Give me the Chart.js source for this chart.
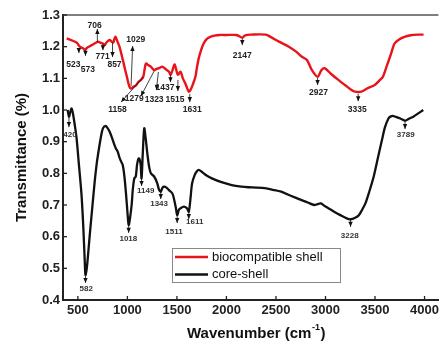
<!DOCTYPE html>
<html><head><meta charset="utf-8">
<script src="https://cdn.jsdelivr.net/npm/chart.js@4/dist/chart.umd.min.js"></script>
<style>html,body{margin:0;padding:0;background:#fff}canvas{display:block}</style>
</head><body>
<canvas id="c" width="442" height="343"></canvas>
<script>
const seriesLabels = ['biocompatible shell', 'core-shell'];

const shellWavenumber = [387,487,520,553,570,600,640,687,703,730,753,771,790,820,845,857,870,880,895,920,945,970,995,1020,1037,1060,1087,1110,1137,1160,1175,1187,1210,1237,1270,1295,1320,1353,1390,1420,1437,1460,1477,1495,1510,1537,1560,1590,1620,1640,1660,1687,1700,1720,1745,1770,1800,1837,1880,1930,2000,2100,2130,2160,2190,2250,2397,2450,2530,2630,2700,2763,2813,2863,2920,2960,2990,3060,3130,3200,3263,3297,3363,3420,3497,3550,3580,3620,3663,3697,3740,3797,3860,3930,3990];
const shellTransmittance = [1.226,1.213,1.200,1.195,1.190,1.198,1.205,1.213,1.216,1.212,1.210,1.205,1.214,1.221,1.215,1.213,1.225,1.231,1.220,1.200,1.170,1.137,1.105,1.074,1.068,1.073,1.078,1.088,1.095,1.105,1.130,1.147,1.142,1.137,1.126,1.130,1.132,1.137,1.128,1.121,1.111,1.130,1.144,1.125,1.111,1.121,1.100,1.080,1.058,1.065,1.080,1.105,1.130,1.163,1.190,1.210,1.224,1.231,1.235,1.237,1.237,1.237,1.233,1.228,1.236,1.238,1.238,1.230,1.216,1.200,1.185,1.168,1.158,1.126,1.105,1.126,1.132,1.113,1.095,1.078,1.063,1.058,1.058,1.068,1.079,1.095,1.105,1.140,1.179,1.210,1.222,1.231,1.236,1.238,1.238];

const coreWavenumber = [397,410,425,437,450,470,487,510,537,555,570,577,590,605,620,645,670,690,703,730,753,780,800,820,845,870,885,903,920,937,953,970,987,1000,1013,1025,1043,1055,1070,1085,1097,1110,1120,1133,1143,1155,1170,1185,1203,1220,1237,1270,1300,1320,1337,1355,1370,1395,1420,1453,1470,1490,1503,1520,1537,1570,1600,1620,1640,1653,1680,1700,1720,1750,1800,1853,1950,2053,2150,2220,2300,2387,2470,2553,2620,2690,2753,2820,2887,2920,2953,3000,3087,3150,3220,3253,3300,3337,3370,3403,3440,3487,3530,3570,3600,3637,3660,3687,3730,3770,3803,3840,3887,3940,3987];
const coreTransmittance = [1.000,0.979,0.995,1.005,0.990,0.950,0.911,0.830,0.732,0.630,0.520,0.479,0.500,0.550,0.605,0.690,0.774,0.830,0.858,0.910,0.942,0.950,0.943,0.932,0.912,0.889,0.878,0.868,0.850,0.837,0.826,0.790,0.732,0.680,0.637,0.655,0.700,0.750,0.784,0.790,0.826,0.845,0.847,0.830,0.784,0.860,0.942,0.910,0.858,0.820,0.800,0.790,0.770,0.748,0.742,0.755,0.758,0.755,0.747,0.737,0.720,0.690,0.668,0.685,0.690,0.695,0.690,0.679,0.730,0.768,0.795,0.806,0.811,0.805,0.793,0.784,0.772,0.763,0.758,0.756,0.755,0.753,0.748,0.742,0.733,0.724,0.716,0.708,0.700,0.703,0.705,0.695,0.679,0.668,0.657,0.655,0.660,0.668,0.685,0.705,0.740,0.790,0.850,0.905,0.945,0.974,0.980,0.981,0.976,0.971,0.966,0.972,0.979,0.990,1.000];

const xTickValues = [500,1000,1500,2000,2500,3000,3500,4000];
const yTickValues = [0.4,0.5,0.6,0.7,0.8,0.9,1.0,1.1,1.2,1.3];

// peak annotations (data units): arrow from (fromX,fromY) to (toX,toY), label at (labelX,labelY)
const shellPeakLabels = ['523','573','706','771','857','1029','1158','1279','1323','1437','1515','1631','2147','2927','3335'];
const shellArrowFromX = [510,577,697,753,850,1037,1160,1270,1313,1435,1510,1630,2160,2920,3330];
const shellArrowFromY = [1.196,1.189,1.215,1.208,1.212,1.076,1.104,1.123,1.120,1.111,1.095,1.051,1.224,1.101,1.051];
const shellArrowToX = [510,577,697,753,850,1053,937,1137,1293,1435,1510,1630,2160,2920,3330];
const shellArrowToY = [1.180,1.171,1.256,1.189,1.167,1.202,1.025,1.044,1.063,1.088,1.060,1.025,1.205,1.079,1.028];
const shellLabelX = [455,600,670,750,870,1085,900,1070,1270,1380,1480,1655,2160,2930,3320];
const shellLabelY = [1.142,1.126,1.267,1.167,1.144,1.221,1.002,1.035,1.032,1.069,1.033,1.000,1.171,1.054,1.000];

const corePeakLabels = ['420','582','1018','1149','1343','1511','1611','3228','3789'];
const coreArrowX = [410,577,1013,1143,1337,1503,1620,3253,3803];
const coreArrowFromY = [0.978,0.476,0.634,0.782,0.741,0.665,0.678,0.653,0.962];
const coreArrowToY = [0.946,0.454,0.612,0.760,0.719,0.643,0.656,0.631,0.940];
const coreLabelX = [420,585,1010,1185,1320,1470,1680,3245,3810];
const coreLabelY = [0.921,0.436,0.593,0.744,0.703,0.615,0.648,0.602,0.921];

const FONT = '"Liberation Sans", Arial, sans-serif';

function drawArrow(ctx, x1, y1, x2, y2) {
  ctx.beginPath(); ctx.moveTo(x1, y1); ctx.lineTo(x2, y2); ctx.stroke();
  const ang = Math.atan2(y2 - y1, x2 - x1), L = 5, W = 2.2;
  const c = Math.cos(ang), s = Math.sin(ang);
  ctx.beginPath();
  ctx.moveTo(x2, y2);
  ctx.lineTo(x2 - L * c + W * s, y2 - L * s - W * c);
  ctx.lineTo(x2 - L * c - W * s, y2 - L * s + W * c);
  ctx.closePath(); ctx.fill();
}

const decor = {
  id: 'decor',
  afterDraw(chart) {
    const { ctx, chartArea: a, scales: { x, y } } = chart;
    ctx.save();
    // top frame
    ctx.strokeStyle = '#555'; ctx.lineWidth = 1.6;
    ctx.beginPath(); ctx.moveTo(a.left, a.top); ctx.lineTo(a.right, a.top); ctx.stroke();
    // inward ticks
    ctx.strokeStyle = '#222'; ctx.lineWidth = 1.3;
    xTickValues.forEach(v => { const p = x.getPixelForValue(v); ctx.beginPath(); ctx.moveTo(p, a.bottom); ctx.lineTo(p, a.bottom - 4); ctx.stroke(); });
    yTickValues.forEach(v => { const p = y.getPixelForValue(v); ctx.beginPath(); ctx.moveTo(a.left, p); ctx.lineTo(a.left + 4, p); ctx.stroke(); });

    // annotations
    ctx.strokeStyle = '#111'; ctx.fillStyle = '#111'; ctx.lineWidth = 0.8;
    ctx.textAlign = 'center'; ctx.textBaseline = 'middle';
    shellPeakLabels.forEach((t, i) => {
      drawArrow(ctx, x.getPixelForValue(shellArrowFromX[i]), y.getPixelForValue(shellArrowFromY[i]),
        x.getPixelForValue(shellArrowToX[i]), y.getPixelForValue(shellArrowToY[i]));
      ctx.font = 'bold 8.5px ' + FONT; ctx.fillStyle = '#222';
      ctx.fillText(t, x.getPixelForValue(shellLabelX[i]), y.getPixelForValue(shellLabelY[i]));
      ctx.fillStyle = '#111';
    });
    corePeakLabels.forEach((t, i) => {
      const px = x.getPixelForValue(coreArrowX[i]);
      drawArrow(ctx, px, y.getPixelForValue(coreArrowFromY[i]), px, y.getPixelForValue(coreArrowToY[i]));
      ctx.font = 'bold 8px ' + FONT; ctx.fillStyle = '#333';
      ctx.fillText(t, x.getPixelForValue(coreLabelX[i]), y.getPixelForValue(coreLabelY[i]));
      ctx.fillStyle = '#111';
    });

    // legend box
    const lx = a.left + 109, ly = a.top + 233, lw = 168, lh = 34;
    ctx.fillStyle = '#fff'; ctx.fillRect(lx, ly, lw, lh);
    ctx.strokeStyle = '#888'; ctx.lineWidth = 1; ctx.strokeRect(lx + 0.5, ly + 0.5, lw, lh);
    chart.data.datasets.forEach((ds, i) => {
      const yy = ly + 9 + i * 17.5;
      ctx.strokeStyle = ds.borderColor; ctx.lineWidth = 2.5;
      ctx.beginPath(); ctx.moveTo(lx + 3, yy); ctx.lineTo(lx + 36, yy); ctx.stroke();
      ctx.fillStyle = '#111'; ctx.font = '13px ' + FONT; ctx.textAlign = 'left';
      ctx.fillText(ds.label, lx + 40, yy);
    });

    // x-axis title with superscript
    const main = 'Wavenumber (cm', sup = '-1', end = ')';
    ctx.fillStyle = '#111'; ctx.textAlign = 'left';
    ctx.font = 'bold 15px ' + FONT; const w1 = ctx.measureText(main).width, w3 = ctx.measureText(end).width;
    ctx.font = 'bold 9px ' + FONT; const w2 = ctx.measureText(sup).width;
    let sx = (a.left + a.right) / 2 + 5 - (w1 + w2 + w3) / 2;
    const ty = 334;
    ctx.font = 'bold 15px ' + FONT; ctx.fillText(main, sx, ty);
    ctx.font = 'bold 9px ' + FONT; ctx.fillText(sup, sx + w1 + 0.5, ty - 6);
    ctx.font = 'bold 15px ' + FONT; ctx.fillText(end, sx + w1 + w2 + 1, ty);
    ctx.restore();
  }
};

new Chart(document.getElementById('c'), {
  type: 'line',
  data: {
    datasets: [
      { label: seriesLabels[0], data: shellWavenumber.map((v, i) => ({ x: v, y: shellTransmittance[i] })),
        borderColor: '#e8131b', borderWidth: 2.4, pointRadius: 0, tension: 0.3, fill: false, borderJoinStyle: 'round' },
      { label: seriesLabels[1], data: coreWavenumber.map((v, i) => ({ x: v, y: coreTransmittance[i] })),
        borderColor: '#111111', borderWidth: 2.3, pointRadius: 0, tension: 0.3, fill: false, borderJoinStyle: 'round' }
    ]
  },
  options: {
    responsive: false, animation: false, devicePixelRatio: 1,
    layout: { padding: { top: 15, right: 0, left: 0, bottom: 0 } },
    plugins: { legend: { display: false }, tooltip: { enabled: false } },
    scales: {
      x: {
        type: 'linear', min: 350, max: 4140,
        afterBuildTicks: s => { s.ticks = xTickValues.map(v => ({ value: v })); },
        afterFit: s => { s.height = 43; },
        grid: { display: false, drawTicks: false },
        border: { display: true, color: '#222', width: 2 },
        ticks: { padding: 3, color: '#222', font: { family: FONT, size: 13, weight: 'bold' }, maxRotation: 0, autoSkip: false, callback: v => String(v) },
        title: { display: false }
      },
      y: {
        type: 'linear', min: 0.4, max: 1.3,
        afterBuildTicks: s => { s.ticks = yTickValues.map(v => ({ value: v })); },
        afterFit: s => { s.width = 63; },
        grid: { display: false, drawTicks: false },
        border: { display: true, color: '#222', width: 2 },
        ticks: { padding: 3, color: '#222', font: { family: FONT, size: 13, weight: 'bold' }, callback: v => Number(v).toFixed(1) },
        title: { display: true, text: 'Transmittance (%)', color: '#111', font: { family: FONT, size: 15, weight: 'bold' }, padding: { top: 13, bottom: 0 } }
      }
    }
  },
  plugins: [decor]
});
</script>
</body></html>
